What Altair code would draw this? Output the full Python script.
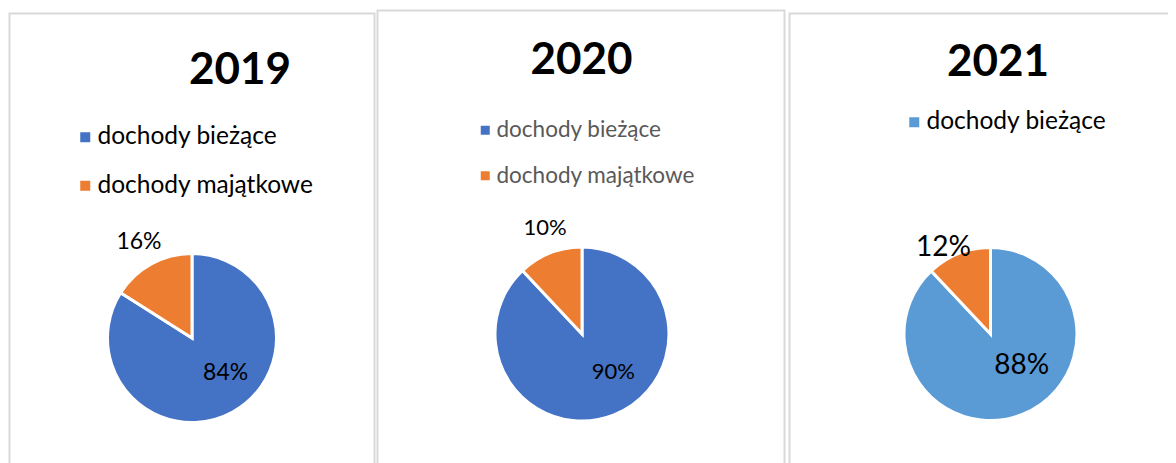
import altair as alt
import pandas as pd

# ---- data ----
years = ["2019", "2020", "2021"]
series = ["dochody bieżące", "dochody majątkowe"]
values_2019 = [84, 16]
values_2020 = [88, 12]
values_2021 = [88, 12]
labels_2019 = ["84%", "16%"]
labels_2020 = ["90%", "10%"]
labels_2021 = ["88%", "12%"]

W, H = 1160, 455
FONT = "Lato"
BLUE, ORANGE, LIGHT = "#4472C4", "#ED7D31", "#5B9BD5"
BORDER = "#D9D9D9"


def pie_df(vals, labs):
    return pd.DataFrame({"series": series, "value": vals, "label": labs, "order": [0, 1]})


year_df = pd.DataFrame({"year": years})

panels = [
    dict(year=years[0], df=pie_df(values_2019, labels_2019),
         box=(1.5, 366.5, 5.5), title=(232, 75.5), cx=184, cy=330, r=84.5,
         colors=[BLUE, ORANGE],
         legend=dict(x=65, y=117, size=100, fs=24.5, color="#000000", pad=23.5, values=series),
         inner=dict(r=47, dx=11, dy=-6, fs=23), outer=dict(r=110, dx=0, dy=0, fs=23)),
    dict(year=years[1], df=pie_df(values_2020, labels_2020),
         box=(369.5, 776.5, 2.5), title=(573.5, 65.5), cx=574, cy=326, r=87,
         colors=[BLUE, ORANGE],
         legend=dict(x=466, y=111, size=81, fs=22.5, color="#595959", pad=22.5, values=series),
         inner=dict(r=47, dx=14, dy=-6, fs=22), outer=dict(r=114, dx=5, dy=0, fs=22)),
    dict(year=years[2], df=pie_df(values_2021, labels_2021),
         box=(781.5, 1300, 5.5), title=(990, 68), cx=982.5, cy=326, r=86.5,
         colors=[LIGHT, ORANGE],
         legend=dict(x=894, y=102, size=100, fs=24.5, color="#000000", pad=24, values=[series[0]]),
         inner=dict(r=47, dx=14, dy=-12, fs=28), outer=dict(r=95, dx=-12, dy=2, fs=28)),
]

layers = []
for p in panels:
    yr = p["year"]
    x0, x1, y0 = p["box"]
    base_year = alt.Chart(year_df).transform_filter(alt.datum.year == yr)
    # panel border (left, top, right; bottom runs off the page)
    layers.append(
        base_year.mark_rect(fillOpacity=0, stroke=BORDER, strokeWidth=2).encode(
            x=alt.value(x0), x2=alt.value(x1), y=alt.value(y0), y2=alt.value(700)
        )
    )
    # title
    layers.append(
        base_year.mark_text(font=FONT, fontSize=44, fontWeight="bold", color="#000000",
                            align="center", baseline="alphabetic").encode(
            text="year:N", x=alt.value(p["title"][0]), y=alt.value(p["title"][1])
        )
    )
    lg = p["legend"]
    base = alt.Chart(p["df"])
    theta = alt.Theta("value:Q", stack=True)
    order = alt.Order("order:Q")
    pos = dict(x=alt.value(p["cx"]), y=alt.value(p["cy"]))
    arc = base.mark_arc(radius=p["r"], stroke="white", strokeWidth=3).encode(
        theta=theta, order=order,
        color=alt.Color(
            "series:N",
            scale=alt.Scale(domain=series, range=p["colors"]),
            legend=alt.Legend(
                orient="none", legendX=lg["x"], legendY=lg["y"], title=None,
                values=lg["values"], symbolType="square", symbolSize=lg["size"],
                symbolStrokeWidth=0, labelFont=FONT, labelFontSize=lg["fs"],
                labelColor=lg["color"], labelOffset=0, rowPadding=lg["pad"],
                labelLimit=500, padding=0, direction="vertical",
            ),
        ),
        **pos,
    )
    inn = p["inner"]
    inner_txt = base.mark_text(radius=inn["r"], dx=inn["dx"], dy=inn["dy"], font=FONT,
                               fontSize=inn["fs"], color="#000000",
                               align="center", baseline="middle").encode(
        theta=theta, order=order,
        text=alt.condition("datum.order == 0", alt.Text("label:N"), alt.value("")),
        **pos,
    )
    out = p["outer"]
    outer_txt = base.mark_text(radius=out["r"], dx=out["dx"], dy=out["dy"], font=FONT,
                               fontSize=out["fs"], color="#000000",
                               align="center", baseline="middle").encode(
        theta=theta, order=order,
        text=alt.condition("datum.order == 1", alt.Text("label:N"), alt.value("")),
        **pos,
    )
    layers.append(alt.layer(arc, inner_txt, outer_txt))

chart = (
    alt.layer(*layers)
    .resolve_scale(color="independent")
    .properties(width=W, height=H, autosize=alt.AutoSizeParams(type="none"), padding=0,
                background="white")
    .configure_view(stroke=None)
)

chart.save("out.html", embed_options={"renderer": "svg", "actions": False})
